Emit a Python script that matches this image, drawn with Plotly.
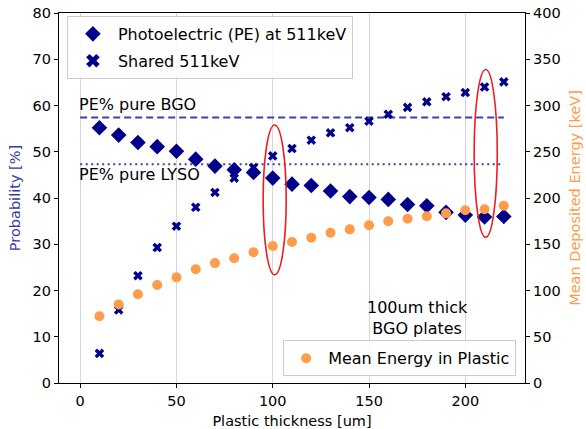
import plotly.graph_objects as go

# ---- data ----
thickness = [10, 20, 30, 40, 50, 60, 70, 80, 90, 100, 110, 120, 130, 140, 150,
             160, 170, 180, 190, 200, 210, 220]
pe_prob = [55.2, 53.6, 52.0, 51.1, 50.1, 48.4, 46.9, 46.1, 45.5, 44.3, 43.0,
           42.7, 41.5, 40.3, 40.1, 39.7, 38.6, 38.3, 36.9, 36.3, 35.9, 36.0]
shared_prob = [6.4, 15.8, 23.2, 29.3, 33.9, 38.0, 41.2, 44.3, 46.6, 49.1, 50.7,
               52.5, 54.1, 55.2, 56.6, 58.1, 59.6, 60.8, 61.9, 62.8, 64.0, 65.1]
mean_energy = [72.1, 85.0, 95.9, 105.9, 114.2, 122.9, 129.6, 134.8, 141.3, 148.1,
               152.4, 157.1, 162.5, 166.1, 170.5, 174.8, 177.6, 180.2, 183.4,
               186.7, 187.8, 191.7]

ref_x = [0, 220]
pe_bgo = 57.4
pe_lyso = 47.3

# highlighted regions (x-range, y-range in data units)
ellipse1_x = [95, 107]
ellipse1_y = [23.4, 55.8]
ellipse2_x = [204.6, 216.6]
ellipse2_y = [31.5, 67.8]

FONT = "DejaVu Sans"
NAVY = "#00008b"
ORANGE = "#fd9c4c"
TXT = 16
TICK = 14.5

fig = go.Figure()

fig.add_trace(go.Scatter(
    x=ref_x, y=[pe_bgo, pe_bgo], mode="lines",
    line=dict(color="rgba(30,30,150,0.85)", width=2, dash="7px,4px"),
    showlegend=False, hoverinfo="skip"))
fig.add_trace(go.Scatter(
    x=ref_x, y=[pe_lyso, pe_lyso], mode="lines",
    line=dict(color="rgba(30,30,150,0.85)", width=2, dash="2px,3.5px"),
    showlegend=False, hoverinfo="skip"))

fig.add_trace(go.Scatter(
    x=thickness, y=pe_prob, mode="markers", name="Photoelectric (PE) at 511keV",
    marker=dict(symbol="diamond", size=12, color=NAVY), legend="legend",
    legendgroup="pe"))
fig.add_trace(go.Scatter(
    x=thickness, y=shared_prob, mode="markers", name="Shared 511keV",
    marker=dict(symbol="x", size=8.5, color=NAVY), legend="legend",
    legendgroup="shared"))
fig.add_trace(go.Scatter(
    x=thickness, y=mean_energy, mode="markers", name="Mean Energy in Plastic",
    marker=dict(symbol="circle", size=10, color=ORANGE), yaxis="y2",
    legend="legend2"))

for ex, ey in [(ellipse1_x, ellipse1_y), (ellipse2_x, ellipse2_y)]:
    fig.add_shape(type="circle", xref="x", yref="y",
                  x0=ex[0], x1=ex[1], y0=ey[0], y1=ey[1],
                  line=dict(color="#ee1c1c", width=1.6))

fig.add_annotation(x=0, y=60.3, xref="x", yref="y", text="PE% pure BGO",
                   showarrow=False, xanchor="left", yanchor="middle", xshift=-3,
                   font=dict(family=FONT, size=TXT, color="black"))
fig.add_annotation(x=0, y=45.0, xref="x", yref="y", text="PE% pure LYSO",
                   showarrow=False, xanchor="left", yanchor="middle", xshift=-3,
                   font=dict(family=FONT, size=TXT, color="black"))
fig.add_annotation(x=175, y=14.0, xref="x", yref="y",
                   text="100um thick<br>BGO plates", align="center",
                   showarrow=False, xanchor="center", yanchor="middle",
                   font=dict(family=FONT, size=TXT, color="black"))

axis_common = dict(showline=True, linecolor="black", linewidth=1.2,
                   ticks="outside", ticklen=4, tickcolor="black",
                   tickfont=dict(family=FONT, size=TICK, color="black"),
                   zeroline=False, automargin=False)

fig.update_layout(
    width=586, height=429,
    margin=dict(l=59, r=61, t=13, b=46),
    paper_bgcolor="white", plot_bgcolor="white",
    font=dict(family=FONT, size=14, color="black"),
    xaxis=dict(range=[-11, 231], tickmode="array",
               tickvals=[0, 50, 100, 150, 200],
               showgrid=True, gridcolor="#d6d6d6", gridwidth=1,
               mirror=True,
               title=dict(text="Plastic thickness [um]", standoff=8,
                          font=dict(family=FONT, size=14.5, color="black")),
               **axis_common),
    yaxis=dict(range=[0, 80], dtick=10, showgrid=False,
               title=dict(text="Probability [%]", standoff=8,
                          font=dict(family=FONT, size=14.5, color="#3a3aa6")),
               **axis_common),
    yaxis2=dict(range=[0, 400], dtick=50, showgrid=False, overlaying="y",
                side="right",
                title=dict(text="Mean Deposited Energy [keV]", standoff=10,
                           font=dict(family=FONT, size=14.5, color=ORANGE)),
                **axis_common),
    legend=dict(x=0.017, y=0.992, xanchor="left", yanchor="top",
                bgcolor="rgba(255,255,255,0.85)", bordercolor="#cccccc",
                borderwidth=1, font=dict(family=FONT, size=TXT),
                tracegroupgap=3, itemsizing="constant", itemwidth=40),
    legend2=dict(x=0.981, y=0.018, xanchor="right", yanchor="bottom",
                 bgcolor="rgba(255,255,255,0.85)", bordercolor="#cccccc",
                 borderwidth=1, font=dict(family=FONT, size=TXT),
                 itemwidth=34),
)

fig.write_html("out.html",
               config={"displayModeBar": False},
               post_script="document.body.style.margin='0';"
                           "document.body.style.padding='0';")
